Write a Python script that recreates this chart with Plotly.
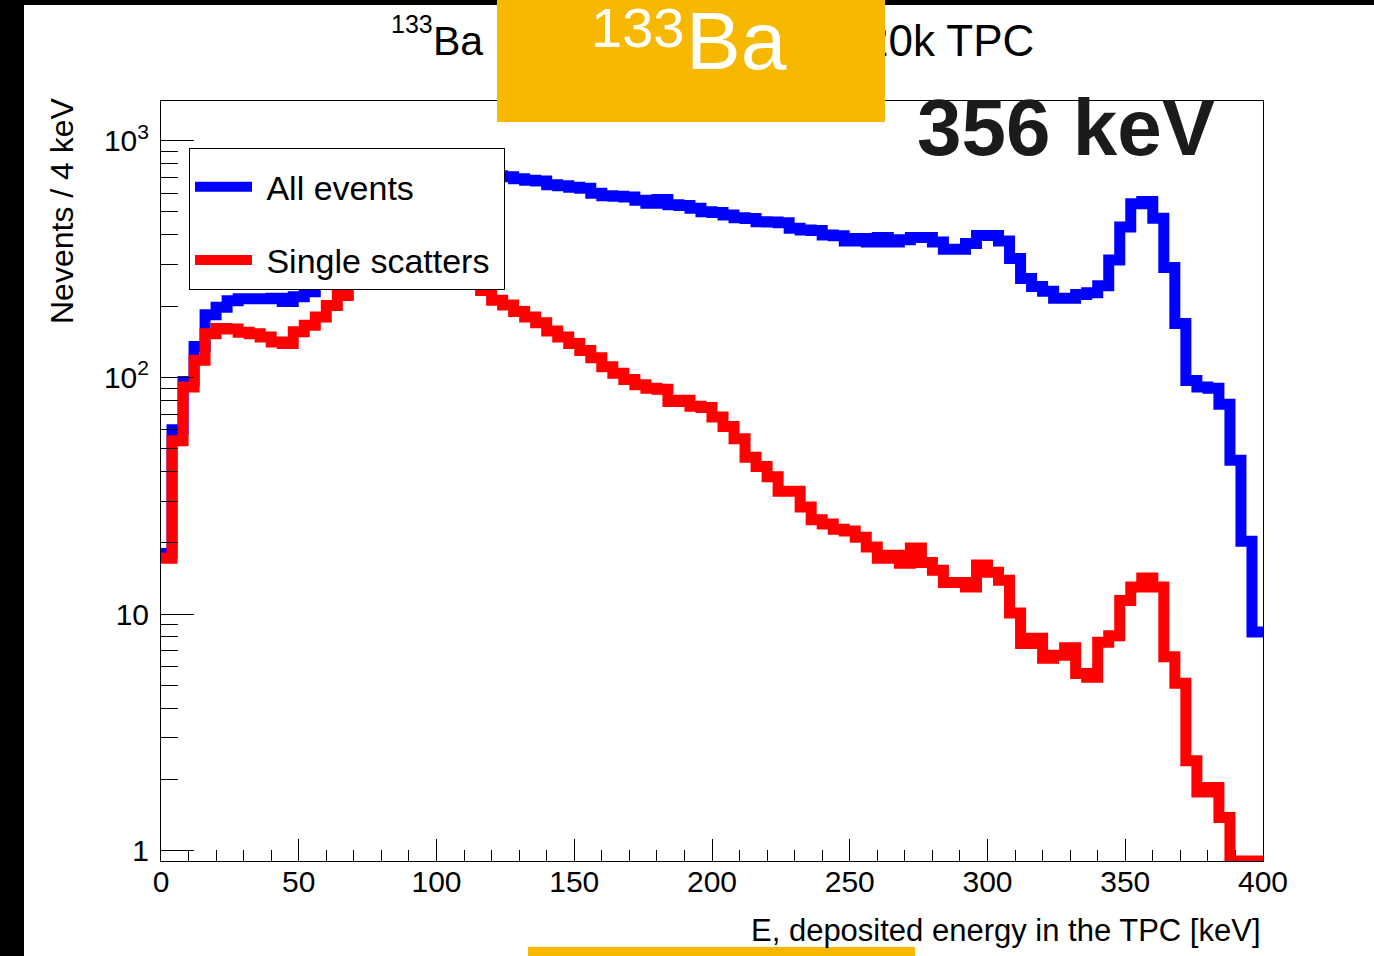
import numpy as np
import plotly.graph_objects as go

# ---- data: 133Ba deposited-energy spectrum, 4 keV bins from 0 to 400 keV ----
bin_width = 4.0
bin_edges = np.arange(0.0, 400.0 + bin_width, bin_width)

all_events = [
    18.0, 60, 96, 135, 184, 198, 211, 215, 215, 215,
    216, 209, 219, 230, 255, 300, 380, 500, 620, 700,
    740, 760, 770, 770, 760, 750, 745, 735, 730, 720,
    712, 705, 690, 680, 675, 652, 645, 636, 630, 600,
    585, 582, 578, 560, 544, 565, 536, 532, 519, 501,
    497, 485, 473, 469, 455, 453, 450, 427, 420, 417,
    400, 397, 377, 386, 373, 390, 373, 382, 390, 390,
    373, 348, 348, 368, 398, 398, 377, 318, 262, 242,
    231, 216, 216, 224, 228, 244, 313, 432, 541, 553,
    470, 291, 169, 97, 91, 90, 77, 44.6, 20.3, 8.4,
]

single_scatters = [
    17.2, 54, 91, 118, 153, 161, 160, 155, 153, 148,
    141, 139, 156, 166, 180, 201, 222, 280, 340, 390,
    410, 400, 370, 340, 315, 295, 280, 265, 250, 233,
    212, 202, 190, 180, 170, 157, 148, 139, 130, 121,
    111, 104, 98, 93, 90, 89, 79, 80, 75.5, 74.5,
    68, 62, 55, 46, 42, 38, 33, 33, 28.3, 25,
    24, 22.8, 22.4, 21.1, 19.2, 17.2, 17.7, 16.4, 19.0, 16.5,
    15.3, 13.6, 13.6, 13.0, 16.1, 15.0, 13.9, 10.1, 7.5, 7.9,
    6.5, 6.7, 7.2, 5.6, 5.4, 7.6, 8.1, 11.4, 13.0, 14.2,
    13.0, 6.6, 5.1, 2.4, 1.77, 1.85, 1.38, 0, 0, 0,
]

x_ticks = [0, 50, 100, 150, 200, 250, 300, 350, 400]
y_ticks = [1, 10, 100, 1000]
y_tick_text = ["1", "10", "10<sup>2</sup>", "10<sup>3</sup>"]

Y_MIN, Y_MAX = 0.904, 1472.0

# ---- page geometry (pixels) ----
W, H = 1374, 956
PL, PR, PT, PB = 161, 1263, 101, 861


def px_x(px):
    return (px - PL) / (PR - PL)


def px_y(py):
    return (PB - py) / (PB - PT)


FONT = "Liberation Sans, Arial, Helvetica, sans-serif"
ORANGE = "#F6B900"
NBSP = "\u00a0"


def step_trace(values, name, color, group):
    vals = np.asarray(values, dtype=float)
    # empty bins sit on the bottom of the log frame
    vals = np.where(vals > 0, vals, Y_MIN)
    y = np.append(vals, vals[-1])
    return go.Scatter(
        x=bin_edges, y=y, mode="lines", name=NBSP + name + NBSP,
        line=dict(color=color, width=11, shape="hv"),
        legendgroup=group, hoverinfo="skip",
    )


fig = go.Figure()
fig.add_trace(step_trace(all_events, "All events", "#0000FF", "a"))
fig.add_trace(step_trace(single_scatters, "Single scatters", "#FF0000", "b"))

fig.update_layout(
    width=W, height=H,
    margin=dict(l=PL, r=W - PR, t=PT, b=H - PB, pad=0),
    paper_bgcolor="white", plot_bgcolor="white",
    font=dict(family=FONT, color="black"),
    showlegend=True,
    legend=dict(
        x=px_x(189), y=px_y(148), xanchor="left", yanchor="top",
        bgcolor="white", bordercolor="black", borderwidth=1,
        font=dict(size=34, family=FONT, color="black"),
        title=dict(text=NBSP, font=dict(size=7), side="top"),
        itemwidth=57, tracegroupgap=26, traceorder="grouped",
    ),
    xaxis=dict(
        range=[0, 400], tickmode="array", tickvals=x_ticks,
        ticks="inside", ticklen=22, tickwidth=1, tickcolor="black",
        showline=True, linecolor="black", linewidth=1, mirror=True,
        showgrid=False, zeroline=False,
        tickfont=dict(size=30, family=FONT, color="black"),
        ticklabelstandoff=-6,
        minor=dict(ticks="inside", ticklen=11, tickwidth=1, tickcolor="black",
                   dtick=10, showgrid=False),
    ),
    yaxis=dict(
        type="log", range=[np.log10(Y_MIN), np.log10(Y_MAX)],
        tickmode="array", tickvals=y_ticks, ticktext=y_tick_text,
        ticks="inside", ticklen=33, tickwidth=1, tickcolor="black",
        showline=True, linecolor="black", linewidth=1, mirror=True,
        showgrid=False, zeroline=False,
        tickfont=dict(size=30, family=FONT, color="black"),
        ticklabelstandoff=5,
        minor=dict(ticks="inside", ticklen=17, tickwidth=1, tickcolor="black",
                   tickmode="array",
                   tickvals=[m * 10 ** e for e in range(0, 4) for m in range(2, 10)],
                   showgrid=False),
    ),
)

annotations = [
    # axis titles
    dict(text="Nevents / 4 keV", textangle=-90, x=px_x(62), y=px_y(211),
         xanchor="center", yanchor="middle", font=dict(size=32)),
    dict(text="E, deposited energy in the TPC [keV]", x=px_x(1263), y=px_y(930),
         xanchor="right", yanchor="middle", font=dict(size=31)),
    # histogram title (the middle of it sits under the source tag)
    dict(text="133", x=px_x(389), y=px_y(24),
         xanchor="left", yanchor="middle", font=dict(size=25)),
    dict(text="Ba", x=px_x(431), y=px_y(41),
         xanchor="left", yanchor="middle", font=dict(size=41)),
    dict(text="20k TPC", x=px_x(1036), y=px_y(40),
         xanchor="right", yanchor="middle", font=dict(size=44)),
    # source tag
    dict(text=" ", x=px_x(497), y=px_y(0), xanchor="left", yanchor="top",
         width=388, height=122, bgcolor=ORANGE, borderpad=0, borderwidth=0),
    dict(text="133", x=px_x(589), y=px_y(27),
         xanchor="left", yanchor="middle",
         font=dict(size=56, color="white")),
    dict(text="Ba", x=px_x(684), y=px_y(41),
         xanchor="left", yanchor="middle",
         font=dict(size=82, color="white")),
    # line energy
    dict(text="356 keV", x=px_x(1066), y=px_y(127),
         xanchor="center", yanchor="middle",
         font=dict(size=80, color="#1b1b1b", weight="bold")),
]
for a in annotations:
    a.update(xref="paper", yref="paper", showarrow=False)
    a.setdefault("font", {})
    a["font"].setdefault("family", FONT)
    a["font"].setdefault("color", "black")
fig.update_layout(annotations=annotations)

shapes = [
    dict(type="rect", x0=px_x(0), x1=px_x(24), y0=px_y(H), y1=px_y(0),
         fillcolor="black", line=dict(width=0)),
    dict(type="rect", x0=px_x(0), x1=px_x(W), y0=px_y(5), y1=px_y(0),
         fillcolor="black", line=dict(width=0)),
    dict(type="rect", x0=px_x(528), x1=px_x(915), y0=px_y(H), y1=px_y(947),
         fillcolor=ORANGE, line=dict(width=0)),
]
for s in shapes:
    s.update(xref="paper", yref="paper", layer="above")
fig.update_layout(shapes=shapes)

fig.write_html("out.html", include_plotlyjs=True, config={"displayModeBar": False})
